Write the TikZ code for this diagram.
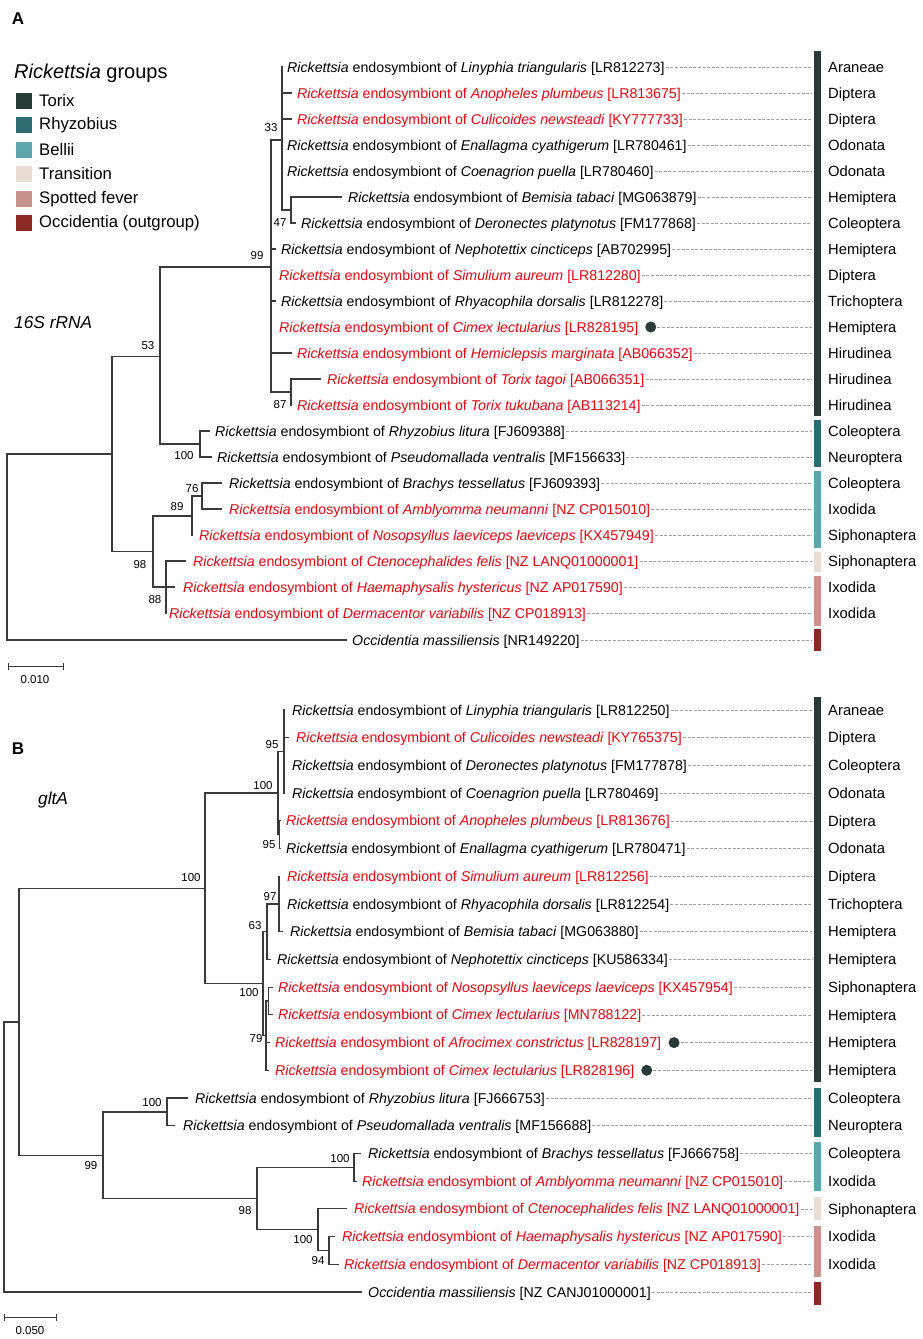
\documentclass[tikz,border=0pt]{standalone}
\usepackage{fontspec}
\setmainfont{Liberation Sans}
\definecolor{torix}{HTML}{283A38}
\definecolor{rhyz}{HTML}{2E6B72}
\definecolor{bellii}{HTML}{5FA6AC}
\definecolor{trans}{HTML}{E9DCD3}
\definecolor{spot}{HTML}{C8938A}
\definecolor{occ}{HTML}{8A2A22}
\definecolor{rred}{HTML}{E30613}
\definecolor{brc}{HTML}{3A3A3A}
\tikzset{
 br/.style={draw=brc, line width=1.1pt},
 leafk/.style={anchor=west, inner sep=0pt, text height=10pt, text depth=0pt, font=\fontsize{14.2}{16}\selectfont},
 leafr/.style={leafk, text=rred},
 cat/.style={anchor=west, inner sep=0pt, text height=10.4pt, text depth=0pt, font=\fontsize{14.8}{17}\selectfont},
 bs/.style={inner sep=0pt, font=\fontsize{11.5}{13}\selectfont},
 dl/.style={draw=gray!75, line width=0.8pt, dash pattern=on 3pt off 1.6pt},
 hdot/.style={circle, fill=torix, inner sep=0pt, minimum size=11pt, anchor=west},
 legtxt/.style={anchor=west, inner sep=0pt, font=\fontsize{16.7}{19}\selectfont},
 panel/.style={inner sep=0pt, font=\fontsize{17}{19}\selectfont\bfseries},
 gene/.style={anchor=west, inner sep=0pt, font=\fontsize{17.3}{20}\selectfont\itshape},
}
\newcommand\rk[7]{\coordinate (#1t) at (#2,#3);\node[#5] (#1) at (#4,#3) {\textit{Rickettsia} endosymbiont of \textit{#6} [#7]};}
\newcommand\ct[3]{\node[cat] (#1) at (828,#2) {#3};}
\begin{document}
\begin{tikzpicture}[x=1pt,y=-1pt]
\useasboundingbox (0,0) rectangle (923,1339);
\fill[white] (0,0) rectangle (923,1339);
\coordinate (barx) at (812,0);

% ---------- Panel A ----------
\node[panel] (pA) at (18,19) {A};
\node[anchor=west, inner sep=0pt, font=\fontsize{20}{23}\selectfont] (legtitle) at (14,73) {\textit{Rickettsia} groups};
\foreach \c/\t/\y [count=\i] in {torix/Torix/101, rhyz/Rhyzobius/125, bellii/Bellii/150, trans/Transition/174, spot/Spotted fever/199, occ/Occidentia (outgroup)/223}{
  \fill[\c] (16,\y-8) rectangle (32,\y+8);
  \node[legtxt] (leg\i) at (39,\y) {\t};
}
\node[gene] (gA) at (14,323) {16S rRNA};

% leaves A
\rk{a0}{283}{67}{287}{leafk}{Linyphia triangularis}{LR812273}
\rk{a1}{292}{93}{297}{leafr}{Anopheles plumbeus}{LR813675}
\rk{a2}{292}{119}{297}{leafr}{Culicoides newsteadi}{KY777733}
\rk{a3}{282}{145}{287}{leafk}{Enallagma cyathigerum}{LR780461}
\rk{a4}{282}{171}{287}{leafk}{Coenagrion puella}{LR780460}
\rk{a5}{342}{197}{348}{leafk}{Bemisia tabaci}{MG063879}
\rk{a6}{296}{223}{301}{leafk}{Deronectes platynotus}{FM177868}
\rk{a7}{276}{249}{281}{leafk}{Nephotettix cincticeps}{AB702995}
\rk{a8}{271}{275}{279}{leafr}{Simulium aureum}{LR812280}
\rk{a9}{276}{301}{281}{leafk}{Rhyacophila dorsalis}{LR812278}
\rk{a10}{271}{327}{279}{leafr}{Cimex lectularius}{LR828195}
\rk{a11}{292}{353}{297}{leafr}{Hemiclepsis marginata}{AB066352}
\rk{a12}{321}{379}{327}{leafr}{Torix tagoi}{AB066351}
\rk{a13}{292}{405}{297}{leafr}{Torix tukubana}{AB113214}
\rk{a14}{210}{431}{215}{leafk}{Rhyzobius litura}{FJ609388}
\rk{a15}{212}{457}{217}{leafk}{Pseudomallada ventralis}{MF156633}
\rk{a16}{222}{483}{229}{leafk}{Brachys tessellatus}{FJ609393}
\rk{a17}{222}{509}{229}{leafr}{Amblyomma neumanni}{NZ CP015010}
\rk{a18}{193}{535}{199}{leafr}{Nosopsyllus laeviceps laeviceps}{KX457949}
\rk{a19}{186}{561}{193}{leafr}{Ctenocephalides felis}{NZ LANQ01000001}
\rk{a20}{175}{587}{183}{leafr}{Haemaphysalis hystericus}{NZ AP017590}
\rk{a21}{167}{613}{169}{leafr}{Dermacentor variabilis}{NZ CP018913}
\coordinate (a22t) at (347,640);
\node[leafk] (a22) at (352,640) {\textit{Occidentia massiliensis} [NR149220]};

% internal nodes A
\coordinate (rootA) at (7,547);
\coordinate (nA1) at (112,454);
\coordinate (n53) at (160,356.5);
\coordinate (n99) at (271,267);
\coordinate (n33) at (282,140);
\coordinate (n47) at (291,210);
\coordinate (n87) at (291,392);
\coordinate (n100a) at (200,444);
\coordinate (n98) at (153,551.5);
\coordinate (n89) at (192,516);
\coordinate (n76) at (202,496);
\coordinate (n88) at (166,587);
\foreach \p/\c in {rootA/nA1, rootA/a22t, nA1/n53, nA1/n98, n53/n99, n53/n100a,
  n99/n33, n99/a7t, n99/a8t, n99/a9t, n99/a10t, n99/a11t, n99/n87,
  n33/a0t, n33/a1t, n33/a2t, n33/a3t, n33/a4t, n33/n47, n47/a5t, n47/a6t,
  n87/a12t, n87/a13t, n100a/a14t, n100a/a15t, n98/n89, n98/n88,
  n89/n76, n89/a18t, n76/a16t, n76/a17t, n88/a19t, n88/a20t, n88/a21t}
  \draw[br] (\p) |- (\c);

% bootstrap A
\node[bs] (bA33) at (271,128) {33};
\node[bs] (bA47) at (280,223) {47};
\node[bs] (bA99) at (257,256) {99};
\node[bs] (bA87) at (280,405) {87};
\node[bs] (bA53) at (148,346) {53};
\node[bs] (bA100) at (184,456) {100};
\node[bs] (bA76) at (192,489) {76};
\node[bs] (bA89) at (177,507) {89};
\node[bs] (bA98) at (140,565) {98};
\node[bs] (bA88) at (155,600) {88};

% dot A
\node[hdot] (dA10) at ([xshift=6.5pt]a10.east) {};
\foreach \n in {a0,a1,a2,a3,a4,a5,a6,a7,a8,a9,dA10,a11,a12,a13,a14,a15,a16,a17,a18,a19,a20,a21,a22}
  \draw[dl] ([xshift=1pt]\n.east) -- (\n.east -| barx);

% bars A
\fill[torix] (814,51) rectangle (821,416);
\fill[rhyz] (814,420) rectangle (821,467);
\fill[bellii] (814,471) rectangle (821,548);
\fill[trans] (814,552) rectangle (821,572);
\fill[spot] (814,576) rectangle (821,626);
\fill[occ] (814,629) rectangle (821,651);

% categories A
\ct{cA0}{67}{Araneae}
\ct{cA1}{93}{Diptera}
\ct{cA2}{119}{Diptera}
\ct{cA3}{145}{Odonata}
\ct{cA4}{171}{Odonata}
\ct{cA5}{197}{Hemiptera}
\ct{cA6}{223}{Coleoptera}
\ct{cA7}{249}{Hemiptera}
\ct{cA8}{275}{Diptera}
\ct{cA9}{301}{Trichoptera}
\ct{cA10}{327}{Hemiptera}
\ct{cA11}{353}{Hirudinea}
\ct{cA12}{379}{Hirudinea}
\ct{cA13}{405}{Hirudinea}
\ct{cA14}{431}{Coleoptera}
\ct{cA15}{457}{Neuroptera}
\ct{cA16}{483}{Coleoptera}
\ct{cA17}{509}{Ixodida}
\ct{cA18}{535}{Siphonaptera}
\ct{cA19}{561}{Siphonaptera}
\ct{cA20}{587}{Ixodida}
\ct{cA21}{613}{Ixodida}

% scale A
\coordinate (sA1) at (8,666);
\coordinate (sA2) at (63,666);
\draw[br, line width=1pt] (sA1) -- (sA2);
\draw[br, line width=1pt] ([yshift=-3.5pt]sA1) -- ([yshift=3.5pt]sA1);
\draw[br, line width=1pt] ([yshift=-3.5pt]sA2) -- ([yshift=3.5pt]sA2);
\node[bs] (sAl) at (35,680) {0.010};

% ---------- Panel B ----------
\node[panel] (pB) at (18,749) {B};
\node[gene] (gB) at (38,800) {gltA};

\rk{b0}{285}{710}{292}{leafk}{Linyphia triangularis}{LR812250}
\rk{b1}{289}{737.7}{296}{leafr}{Culicoides newsteadi}{KY765375}
\rk{b2}{285}{765.4}{292}{leafk}{Deronectes platynotus}{FM177878}
\rk{b3}{285}{793.1}{292}{leafk}{Coenagrion puella}{LR780469}
\rk{b4}{281}{820.9}{286}{leafr}{Anopheles plumbeus}{LR813676}
\rk{b5}{281}{848.6}{286}{leafk}{Enallagma cyathigerum}{LR780471}
\rk{b6}{279}{876.3}{287}{leafr}{Simulium aureum}{LR812256}
\rk{b7}{279}{904}{287}{leafk}{Rhyacophila dorsalis}{LR812254}
\rk{b8}{283}{931.7}{290}{leafk}{Bemisia tabaci}{MG063880}
\rk{b9}{271}{959.4}{277}{leafk}{Nephotettix cincticeps}{KU586334}
\rk{b10}{273}{987.1}{278}{leafr}{Nosopsyllus laeviceps laeviceps}{KX457954}
\rk{b11}{273}{1014.9}{278}{leafr}{Cimex lectularius}{MN788122}
\rk{b12}{270}{1042.6}{275}{leafr}{Afrocimex constrictus}{LR828197}
\rk{b13}{269}{1070.3}{275}{leafr}{Cimex lectularius}{LR828196}
\rk{b14}{188}{1098}{195}{leafk}{Rhyzobius litura}{FJ666753}
\rk{b15}{175}{1125.7}{183}{leafk}{Pseudomallada ventralis}{MF156688}
\rk{b16}{361}{1153.4}{368}{leafk}{Brachys tessellatus}{FJ666758}
\rk{b17}{357}{1181.1}{362}{leafr}{Amblyomma neumanni}{NZ CP015010}
\rk{b18}{347}{1208.9}{354}{leafr}{Ctenocephalides felis}{NZ LANQ01000001}
\rk{b19}{335}{1236.6}{342}{leafr}{Haemaphysalis hystericus}{NZ AP017590}
\rk{b20}{339}{1264.3}{344}{leafr}{Dermacentor variabilis}{NZ CP018913}
\coordinate (b21t) at (362,1292);
\node[leafk] (b21) at (368,1292) {\textit{Occidentia massiliensis} [NZ CANJ01000001]};

\coordinate (rootB) at (4,1157);
\coordinate (nB1) at (19,1022);
\coordinate (nb3) at (205,888.4);
\coordinate (nb1) at (278,793);
\coordinate (n95a) at (284,751.5);
\coordinate (n95b) at (279.5,834.7);
\coordinate (nb2) at (263,983.7);
\coordinate (n63) at (267,931.7);
\coordinate (n97) at (279,904);
\coordinate (n79) at (266,1035.7);
\coordinate (nX) at (268.5,1001);
\coordinate (n99b) at (103,1155.3);
\coordinate (nb4) at (167,1112);
\coordinate (n98b) at (257,1198.5);
\coordinate (nb5) at (354,1167.3);
\coordinate (nb6) at (318,1229.7);
\coordinate (n94) at (329,1250.5);
\foreach \p/\c in {rootB/nB1, rootB/b21t, nB1/nb3, nB1/n99b, nb3/nb1, nb3/nb2,
  nb1/n95a, nb1/n95b, n95a/b0t, n95a/b1t, n95a/b2t, n95a/b3t, n95b/b4t, n95b/b5t,
  nb2/n63, nb2/n79, n63/n97, n63/b9t, n97/b6t, n97/b7t, n97/b8t,
  n79/nX, n79/b12t, n79/b13t, nX/b10t, nX/b11t,
  n99b/nb4, n99b/n98b, nb4/b14t, nb4/b15t, n98b/nb5, n98b/nb6,
  nb5/b16t, nb5/b17t, nb6/b18t, nb6/n94, n94/b19t, n94/b20t}
  \draw[br] (\p) |- (\c);

\node[bs] (bB95a) at (272,745) {95};
\node[bs] (bB100a) at (263,786) {100};
\node[bs] (bB95b) at (269,845) {95};
\node[bs] (bB100b) at (191,878) {100};
\node[bs] (bB97) at (270,897) {97};
\node[bs] (bB63) at (255,926) {63};
\node[bs] (bB100c) at (249,993) {100};
\node[bs] (bB79) at (256,1039) {79};
\node[bs] (bB100d) at (152,1103) {100};
\node[bs] (bB99) at (91,1166) {99};
\node[bs] (bB100e) at (340,1159) {100};
\node[bs] (bB98) at (245,1211) {98};
\node[bs] (bB100f) at (303,1240) {100};
\node[bs] (bB94) at (318,1261) {94};

\node[hdot] (dB12) at ([xshift=7pt]b12.east) {};
\node[hdot] (dB13) at ([xshift=6.5pt]b13.east) {};
\foreach \n in {b0,b1,b2,b3,b4,b5,b6,b7,b8,b9,b10,b11,dB12,dB13,b14,b15,b16,b17,b18,b19,b20,b21}
  \draw[dl] ([xshift=1pt]\n.east) -- (\n.east -| barx);

\fill[torix] (814,697) rectangle (821,1082);
\fill[rhyz] (814,1088) rectangle (821,1137);
\fill[bellii] (814,1142) rectangle (821,1191);
\fill[trans] (814,1197) rectangle (821,1220);
\fill[spot] (814,1226) rectangle (821,1277);
\fill[occ] (814,1282) rectangle (821,1305);

\ct{cB0}{710}{Araneae}
\ct{cB1}{737.7}{Diptera}
\ct{cB2}{765.4}{Coleoptera}
\ct{cB3}{793.1}{Odonata}
\ct{cB4}{820.9}{Diptera}
\ct{cB5}{848.6}{Odonata}
\ct{cB6}{876.3}{Diptera}
\ct{cB7}{904}{Trichoptera}
\ct{cB8}{931.7}{Hemiptera}
\ct{cB9}{959.4}{Hemiptera}
\ct{cB10}{987.1}{Siphonaptera}
\ct{cB11}{1014.9}{Hemiptera}
\ct{cB12}{1042.6}{Hemiptera}
\ct{cB13}{1070.3}{Hemiptera}
\ct{cB14}{1098}{Coleoptera}
\ct{cB15}{1125.7}{Neuroptera}
\ct{cB16}{1153.4}{Coleoptera}
\ct{cB17}{1181.1}{Ixodida}
\ct{cB18}{1208.9}{Siphonaptera}
\ct{cB19}{1236.6}{Ixodida}
\ct{cB20}{1264.3}{Ixodida}

\coordinate (sB1) at (4,1317);
\coordinate (sB2) at (56,1317);
\draw[br, line width=1pt] (sB1) -- (sB2);
\draw[br, line width=1pt] ([yshift=-3.5pt]sB1) -- ([yshift=3.5pt]sB1);
\draw[br, line width=1pt] ([yshift=-3.5pt]sB2) -- ([yshift=3.5pt]sB2);
\node[bs] (sBl) at (30,1331) {0.050};
\end{tikzpicture}
\end{document}
